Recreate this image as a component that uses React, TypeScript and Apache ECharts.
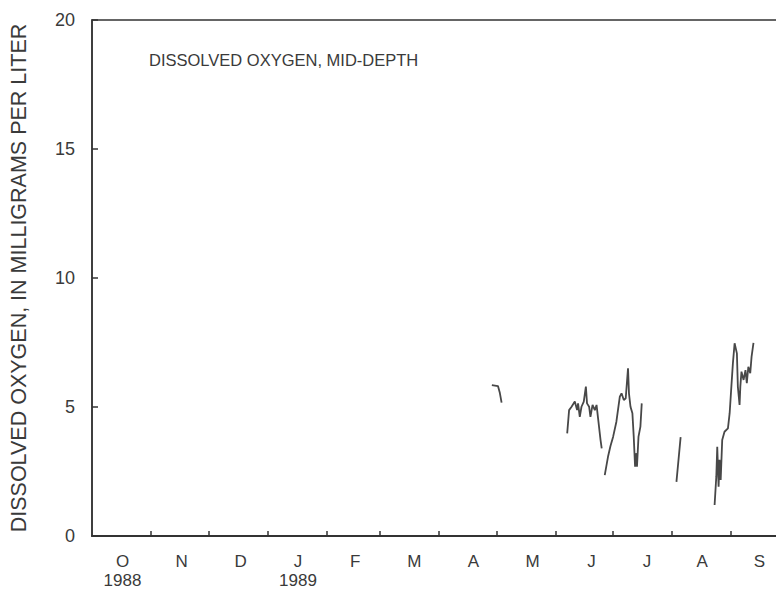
import React, { useEffect, useRef } from "react";
import * as echarts from "echarts";

// X positions are days since 1 October 1988 (water year 1989)
const monthLetters = ["O", "N", "D", "J", "F", "M", "A", "M", "J", "J", "A", "S"];
const monthLabelDays = [16, 47, 78, 108, 138, 169, 200, 231, 262, 291, 320, 350];
const monthStartDays = [31, 61, 92, 123, 151, 182, 212, 243, 273, 304, 335];
const yearLabels: Record<number, string> = { 0: "1988", 3: "1989" };
const yTicks = [0, 5, 10, 15, 20];

const seg1X = [209.7, 212.9, 213.9, 214.8];
const seg1Y = [5.85, 5.81, 5.54, 5.17];

const seg2X = [249.2, 250.2, 251.5, 253.2, 254.4, 254.9, 255.8, 256.7, 257.9, 259.0, 259.6, 260.7, 261.4, 262.5, 263.7, 264.6, 265.4, 266.7, 267.3];
const seg2Y = [3.98, 4.88, 5.01, 5.21, 4.88, 5.14, 4.62, 5.01, 5.21, 5.79, 5.14, 5.01, 4.62, 5.08, 4.88, 5.08, 4.56, 3.72, 3.4];

const seg3X = [268.9, 270.6, 271.9, 273.3, 275.0, 276.8, 277.7, 278.9, 279.9, 281.1, 281.6, 282.4, 283.4, 284.1, 284.8, 285.5, 285.8, 286.6, 287.6, 288.3];
const seg3Y = [2.36, 3.07, 3.49, 3.85, 4.43, 5.4, 5.53, 5.27, 5.34, 6.5, 5.53, 5.01, 4.76, 3.85, 2.69, 3.21, 2.69, 3.85, 4.24, 5.14];

const seg4X = [306.5, 308.7];
const seg4Y = [2.1, 3.83];

const seg5X = [326.5, 327.4, 327.9, 328.6, 329.1, 329.7, 330.5, 331.7, 333.5, 334.4, 335.3, 336.1, 337.0, 338.2, 338.7, 339.6, 340.0, 340.6, 341.7, 342.7, 343.4, 344.2, 345.2, 345.9, 346.9];
const seg5Y = [1.2, 2.3, 3.46, 1.91, 2.95, 2.17, 3.72, 4.04, 4.17, 4.76, 5.79, 6.69, 7.47, 7.08, 5.79, 5.08, 5.79, 6.37, 6.05, 6.43, 5.92, 6.56, 6.31, 6.95, 7.49];

const segments = [
  [seg1X, seg1Y],
  [seg2X, seg2Y],
  [seg3X, seg3Y],
  [seg4X, seg4Y],
  [seg5X, seg5Y],
];

const FONT = "'Liberation Sans', Arial, Helvetica, sans-serif";
const TEXT = "#3a3a3a";
const LINE = "#333";

export default function App() {
  const ref = useRef<HTMLDivElement>(null);
  useEffect(() => {
    if (!ref.current) return;
    const chart = echarts.init(ref.current, null, { renderer: "svg" });
    chart.setOption({
      animation: false,
      backgroundColor: "#fff",
      grid: {
        left: 91,
        top: 20,
        width: 697,
        height: 516,
        show: true,
        borderColor: LINE,
        borderWidth: 1.5,
      },
      xAxis: {
        type: "value",
        min: 0,
        max: 365,
        axisLine: { show: true, lineStyle: { color: LINE, width: 2 } },
        axisTick: { show: true, inside: true, length: 5, customValues: monthStartDays, lineStyle: { color: LINE, width: 1.5 } },
        splitLine: { show: false },
        axisLabel: {
          customValues: monthLabelDays,
          margin: 15,
          color: TEXT,
          fontFamily: FONT,
          formatter: (v: number) => {
            const i = monthLabelDays.indexOf(v);
            if (i < 0) return "";
            const y = yearLabels[i];
            return y ? `{m|${monthLetters[i]}}\n{y|${y}}` : `{m|${monthLetters[i]}}`;
          },
          rich: {
            m: { fontSize: 17, lineHeight: 20, color: TEXT, fontFamily: FONT },
            y: { fontSize: 17, lineHeight: 18, color: TEXT, fontFamily: FONT },
          },
        },
      },
      yAxis: {
        type: "value",
        min: yTicks[0],
        max: yTicks[yTicks.length - 1],
        interval: 5,
        name: "DISSOLVED OXYGEN, IN MILLIGRAMS PER LITER",
        nameLocation: "middle",
        nameGap: 62,
        nameTextStyle: { fontSize: 21.5, color: TEXT, fontFamily: FONT },
        axisLine: { show: true, lineStyle: { color: LINE, width: 1.5 } },
        axisTick: { show: true, inside: true, length: 6, lineStyle: { color: LINE, width: 1.5 } },
        splitLine: { show: false },
        axisLabel: { margin: 17, fontSize: 18, color: TEXT, fontFamily: FONT },
      },
      graphic: [
        {
          type: "text",
          left: 149,
          top: 51,
          style: {
            text: "DISSOLVED OXYGEN, MID-DEPTH",
            fontSize: 16.5,
            fontFamily: FONT,
            fill: TEXT,
          },
        },
      ],
      series: segments.map(([xs, ys]) => ({
        type: "line",
        data: xs.map((x, i) => [x, ys[i]]),
        showSymbol: false,
        symbol: "none",
        lineStyle: { color: "#484848", width: 1.8 },
      })),
    });
    return () => chart.dispose();
  }, []);
  return (
    <div style={{ position: "fixed", left: 0, top: 0, width: 776, height: 593, overflow: "hidden", background: "#fff" }}>
      <div ref={ref} style={{ width: 820, height: 593 }} />
    </div>
  );
}
